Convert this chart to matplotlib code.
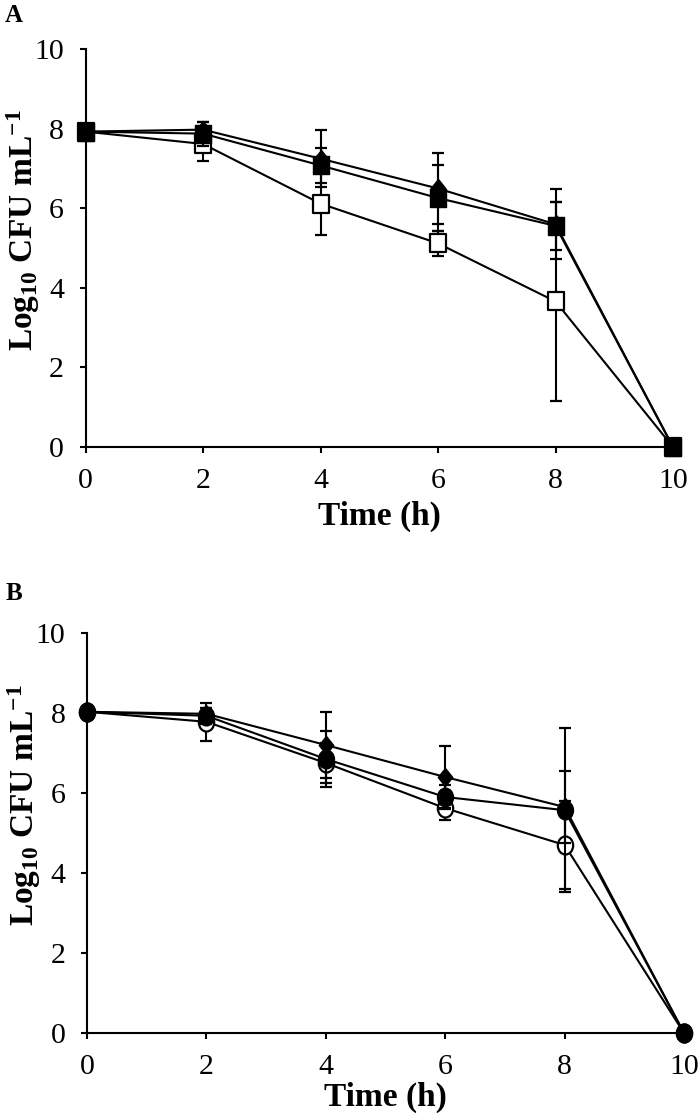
import matplotlib
matplotlib.use("Agg")
import matplotlib.pyplot as plt
import numpy as np
from matplotlib.path import Path

plt.rcParams['font.family'] = ['Liberation Serif', 'DejaVu Serif']
plt.rcParams['mathtext.fontset'] = 'custom'
plt.rcParams['mathtext.rm'] = 'Liberation Serif'
plt.rcParams['mathtext.bf'] = 'Liberation Serif:bold'
plt.rcParams['mathtext.it'] = 'Liberation Serif:italic'

# ---------------- data ----------------
time_h = [0, 2, 4, 6, 8, 10]
tick_vals = [0, 2, 4, 6, 8, 10]

# Panel A
a_diamond = [7.93, 7.98, 7.25, 6.50, 5.60, 0.0]
a_diamond_err = [0.0, 0.18, 0.72, 0.90, 0.88, 0.0]
a_fsquare = [7.93, 7.88, 7.08, 6.26, 5.56, 0.0]
a_fsquare_err = [0.0, 0.30, 0.45, 0.84, 0.60, 0.0]
a_osquare = [7.93, 7.62, 6.12, 5.12, 3.66, 0.0]
a_osquare_err = [0.0, 0.43, 0.78, 0.32, 2.50, 0.0]

# Panel B
b_diamond = [8.03, 7.98, 7.20, 6.40, 5.65, 0.0]
b_diamond_err = [0.0, 0.15, 0.83, 0.78, 0.90, 0.0]
b_fcircle = [8.03, 7.93, 6.85, 5.90, 5.57, 0.0]
b_fcircle_err = [0.0, 0.20, 0.70, 0.30, 2.05, 0.0]
b_ocircle = [8.03, 7.78, 6.75, 5.62, 4.70, 0.0]
b_ocircle_err = [0.0, 0.47, 0.50, 0.30, 1.10, 0.0]

# ---------------- markers (slightly tall, as in reference) ----------------
def rect_marker(w=0.85):
    v = [(-w / 2, -0.5), (w / 2, -0.5), (w / 2, 0.5), (-w / 2, 0.5), (-w / 2, -0.5)]
    return Path(v, [Path.MOVETO, Path.LINETO, Path.LINETO, Path.LINETO, Path.CLOSEPOLY])

def diamond_marker(w=0.8):
    v = [(0, -0.5), (w / 2, 0), (0, 0.5), (-w / 2, 0), (0, -0.5)]
    return Path(v, [Path.MOVETO, Path.LINETO, Path.LINETO, Path.LINETO, Path.CLOSEPOLY])

def ellipse_marker(w=0.85):
    c = Path.unit_circle()
    v = c.vertices.copy()
    v[:, 0] *= w / 2
    v[:, 1] *= 0.5
    return Path(v, c.codes)

SQ = rect_marker()
DI = diamond_marker()
EL = ellipse_marker()

W, H = 700, 1115
fig = plt.figure(figsize=(W / 100, H / 100), dpi=100)

def px_axes(left, right, top, bottom):
    return fig.add_axes([left / W, 1 - bottom / H, (right - left) / W, (bottom - top) / H])

axA = px_axes(85.5, 673, 49.3, 447)
axB = px_axes(87, 684, 633, 1033)

def draw_series(ax, y, err, marker, ms, filled, z):
    ax.errorbar(time_h, y, yerr=err, fmt='none', ecolor='black', elinewidth=1.5,
                capsize=4.5, capthick=1.6, zorder=z, clip_on=False)
    ax.plot(time_h, y, color='black', lw=1.5, marker=marker, markersize=ms,
            markerfacecolor='black' if filled else 'white',
            markeredgecolor='black', markeredgewidth=1.6 if not filled else 1.0,
            zorder=z + 0.5, clip_on=False)

# Panel A
draw_series(axA, a_osquare, a_osquare_err, SQ, 13, False, 3)
draw_series(axA, a_diamond, a_diamond_err, DI, 13, True, 4)
draw_series(axA, a_fsquare, a_fsquare_err, SQ, 13.5, True, 5)

# Panel B
draw_series(axB, b_ocircle, b_ocircle_err, EL, 13, False, 3)
draw_series(axB, b_diamond, b_diamond_err, DI, 13, True, 4)
draw_series(axB, b_fcircle, b_fcircle_err, EL, 13.5, True, 5)

ylab = r'Log$_{\mathregular{10}}$ CFU mL$^{\mathregular{-1}}$'
for ax in (axA, axB):
    ax.set_xlim(0, 10)
    ax.set_ylim(0, 10)
    ax.set_xticks(tick_vals)
    ax.set_yticks(tick_vals)
    ax.set_xticklabels([str(t) for t in tick_vals])
    ax.set_yticklabels([str(t) for t in tick_vals])
    for s in ('top', 'right'):
        ax.spines[s].set_visible(False)
    for s in ('left', 'bottom'):
        ax.spines[s].set_linewidth(1.5)
    ax.tick_params(direction='out', length=4.5, width=1.5, labelsize=21.5)
    ax.tick_params(axis='x', pad=10.5)
    ax.tick_params(axis='y', pad=11)
    ax.set_xlabel('Time (h)', fontsize=24, fontweight='bold', labelpad=0)
    ax.set_ylabel(ylab, fontsize=24, fontweight='bold')

axA.yaxis.set_label_coords(-0.074, 0.546)
axB.yaxis.set_label_coords(-0.074, 0.57)
axA.xaxis.set_label_coords(0.5, -0.135)
axB.xaxis.set_label_coords(0.5, -0.123)

fig.text(14 / W, 1 - 15 / H, 'A', fontsize=18, fontweight='bold', ha='center', va='center')
fig.text(14 / W, 1 - 593 / H, 'B', fontsize=18, fontweight='bold', ha='center', va='center')

fig.savefig('out.png', dpi=100)
